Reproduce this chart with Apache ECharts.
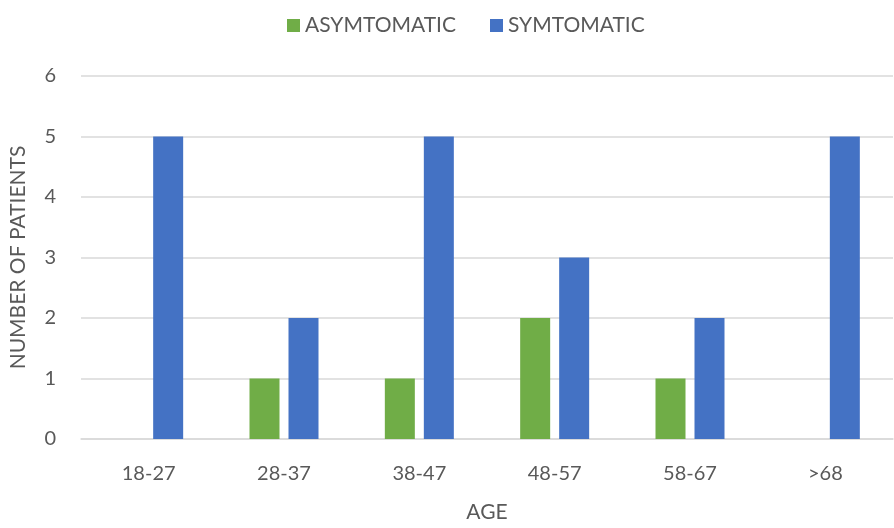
<!DOCTYPE html>
<html><head><meta charset="utf-8">
<script src="https://cdn.jsdelivr.net/npm/echarts@6/dist/echarts.min.js"></script>
<style>html,body{margin:0;padding:0;background:#fff}#c{width:894px;height:528px}</style>
</head><body><div id="c"></div>
<script>
const categories = ['18-27','28-37','38-47','48-57','58-67','>68'];
const asymptomatic = [0,1,1,2,1,0];
const symptomatic = [5,2,5,3,2,5];
const yTicks = [0,1,2,3,4,5,6];

const font = 'Lato, "Open Sans", sans-serif';
const chart = echarts.init(document.getElementById('c'), null, {renderer:'canvas'});
chart.setOption({
  animation:false,
  backgroundColor:'#fff',
  legend:{
    top:10, left:282, itemWidth:13, itemHeight:13, itemGap:34,
    icon:'rect',
    textStyle:{fontFamily:font, fontSize:21, color:'#595959'}
  },
  grid:{left:81, right:1, top:76, bottom:83, containLabel:false},
  xAxis:{
    type:'category', data:categories,
    name:'AGE', nameLocation:'middle', nameGap:63,
    nameTextStyle:{fontFamily:font, fontSize:21, color:'#595959'},
    axisLine:{lineStyle:{color:'#d9d9d9', width:1.5}},
    axisTick:{show:false},
    axisLabel:{fontFamily:font, fontSize:20, color:'#595959', margin:25}
  },
  yAxis:{
    type:'value', min:yTicks[0], max:yTicks[yTicks.length-1], interval:1,
    name:'NUMBER OF PATIENTS', nameLocation:'middle', nameGap:52,
    nameTextStyle:{fontFamily:font, fontSize:21, color:'#595959'},
    axisLine:{show:false}, axisTick:{show:false},
    axisLabel:{fontFamily:font, fontSize:20, color:'#595959', margin:25},
    splitLine:{lineStyle:{color:'#d9d9d9', width:1.5}}
  },
  series:[
    {name:'ASYMTOMATIC', type:'bar', data:asymptomatic, barWidth:30, barGap:'30%', itemStyle:{color:'#70AD47'}},
    {name:'SYMTOMATIC', type:'bar', data:symptomatic, barWidth:30, barGap:'30%', itemStyle:{color:'#4472C4'}}
  ]
});
</script></body></html>
